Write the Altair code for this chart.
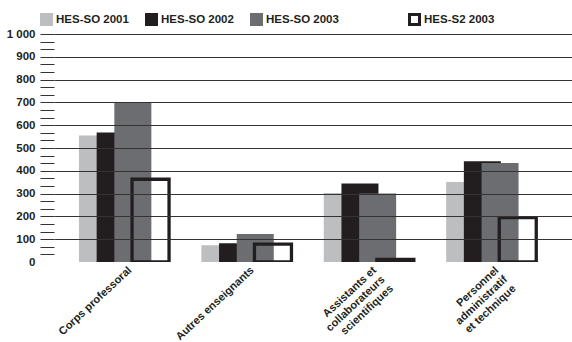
import altair as alt
import pandas as pd

# Staff categories (x axis); "\n" marks a line break in the label
categories = [
    "Corps professoral",
    "Autres enseignants",
    "Assistants et\ncollaborateurs\nscientifiques",
    "Personnel\nadministratif\net technique",
]

# Series values per category
hes_so_2001 = [555, 74, 303, 351]
hes_so_2002 = [568, 82, 344, 442]
hes_so_2003 = [700, 123, 300, 434]
hes_s2_2003 = [363, 78, 11, 195]

filled_series = ["HES-SO 2001", "HES-SO 2002", "HES-SO 2003"]
filled_colors = ["#bdbec0", "#221e1f", "#6c6d70"]
outline_series = ["HES-S2 2003"]
outline_colors = ["#221e1f"]

rows = []
for name, vals in zip(filled_series + outline_series,
                      [hes_so_2001, hes_so_2002, hes_so_2003, hes_s2_2003]):
    for cat, v in zip(categories, vals):
        rows.append({"categorie": cat, "serie": name, "effectif": v})
df = pd.DataFrame(rows)

# y axis: labelled gridlines every 100, short minor ticks at thirds
y_ticks = [i * 100 / 3 for i in range(31)]

FONT = "Liberation Sans"
GRID = "#333333"
BAR_W = 37
STEP = 17.7

x_enc = alt.X(
    "categorie:N",
    sort=categories,
    scale=alt.Scale(paddingInner=0, paddingOuter=0.116, align=0.31),
    axis=alt.Axis(
        title=None, domain=False, ticks=False, tickSize=0,
        labelAngle=317, labelAlign="right", labelBaseline="top",
        labelPadding=2, labelOffset=2, labelLimit=300,
        labelExpr="split(datum.label, '\\n')",
        labelFont=FONT, labelFontSize=11, labelFontWeight="bold",
        labelLineHeight=12.5, labelColor="#231f20",
    ),
)

y_enc = alt.Y(
    "effectif:Q",
    scale=alt.Scale(domain=[0, 1000], nice=False),
    axis=alt.Axis(
        title=None, values=y_ticks, domain=False,
        tickSize=14, tickColor=GRID, tickWidth=1,
        tickOpacity={"condition": {"test": "datum.value == 0", "value": 0}, "value": 1},
        grid=True, gridColor=GRID, gridWidth=1,
        gridOpacity={"condition": {"test": "datum.value % 100 == 0 && datum.value > 0", "value": 1}, "value": 0},
        labelExpr="datum.value % 100 == 0 ? replace(format(datum.value, ','), ',', ' ') : ''",
        labelFont=FONT, labelFontSize=11.5, labelFontWeight="bold",
        labelPadding=5, labelColor="#231f20", zindex=1,
    ),
)

fill_enc = alt.Fill(
    "serie:N",
    scale=alt.Scale(domain=filled_series, range=filled_colors),
    legend=alt.Legend(
        title=None, orient="none", legendX=-14, legendY=-21,
        direction="horizontal", padding=0,
        symbolType="square", symbolSize=169, symbolStrokeWidth=0,
        labelFont=FONT, labelFontSize=11.5, labelFontWeight="bold",
        labelColor="#231f20", labelOffset=3, columnPadding=16,
    ),
)

stroke_enc = alt.Stroke(
    "serie:N",
    scale=alt.Scale(domain=outline_series, range=outline_colors),
    legend=alt.Legend(
        title=None, orient="none", legendX=354, legendY=-21,
        direction="horizontal", padding=0,
        symbolType="square", symbolSize=100, symbolStrokeWidth=3,
        symbolFillColor="white",
        labelFont=FONT, labelFontSize=11.5, labelFontWeight="bold",
        labelColor="#231f20", labelOffset=3,
    ),
)

base = alt.Chart(df)

layers = []
for i, name in enumerate(filled_series):
    layers.append(
        base.transform_filter(alt.datum.serie == name)
        .mark_bar(width=BAR_W, xOffset=(i - 1.5) * STEP)
        .encode(x=x_enc, y=y_enc, fill=fill_enc)
    )

layers.append(
    base.transform_filter(alt.datum.serie == outline_series[0])
    .mark_bar(width=BAR_W, xOffset=1.5 * STEP, filled=False,
              strokeWidth=3.3, strokeJoin="miter", clip=True)
    .encode(x=x_enc, y=y_enc, stroke=stroke_enc)
)

chart = (
    alt.layer(*layers)
    .properties(
        width=518, height=228,
        autosize=alt.AutoSizeParams(type="none"),
        padding={"left": 54, "top": 34, "right": 0, "bottom": 80},
        background="white",
    )
    .configure(font=FONT)
    .configure_view(stroke=None)
)

chart.save("out.html", embed_options={"renderer": "svg", "actions": False})
